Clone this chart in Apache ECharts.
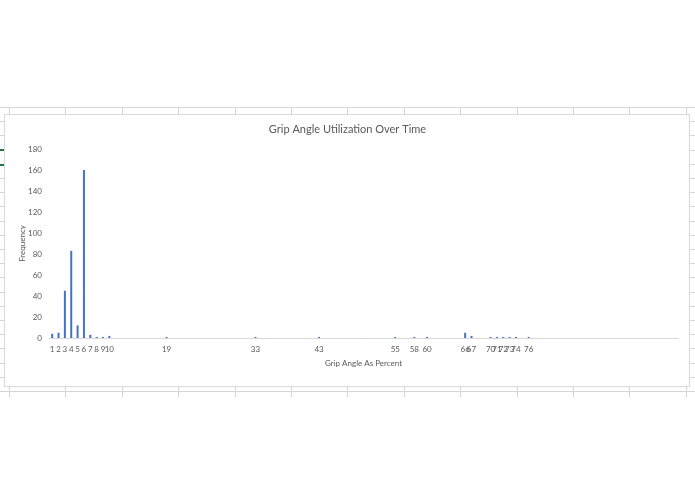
<!DOCTYPE html>
<html>
<head>
<meta charset="utf-8">
<script src="https://cdn.jsdelivr.net/npm/echarts@6/dist/echarts.min.js"></script>
<style>
  html, body { margin: 0; padding: 0; width: 695px; height: 494px; background: #ffffff; overflow: hidden; }
  #sheet {
    position: absolute; left: 0; top: 107px; width: 695px; height: 290px;
    background-image:
      repeating-linear-gradient(to right, transparent 0px, transparent 9px, #d6d6d6 9px, #d6d6d6 10px, transparent 10px, transparent 56.4px),
      repeating-linear-gradient(to bottom, #d6d6d6 0px, #d6d6d6 1px, transparent 1px, transparent 14.2px);
  }
  #frame {
    position: absolute; left: 4px; top: 114px; width: 684px; height: 271px;
    background: #ffffff; border: 1px solid #d9d9d9;
  }
  .gm { position: absolute; left: 0; width: 4px; height: 2px; background: #217346; }
  #chart { position: absolute; left: 0; top: 0; width: 695px; height: 494px; }
</style>
</head>
<body>
<div id="sheet"></div>
<div class="gm" style="top:149px"></div>
<div class="gm" style="top:164px"></div>
<div id="frame"></div>
<div id="chart"></div>
<script>
// Grip angle (percent) categories present in the data
const categories = [1, 2, 3, 4, 5, 6, 7, 8, 9, 10, 19, 33, 43, 55, 58, 60, 66, 67, 70, 71, 72, 73, 74, 76];
// Frequency for each category
const frequencies = [4, 5, 45, 83, 12, 160, 3, 1, 1, 2, 1, 1, 1, 1, 1, 1, 5, 2, 1, 1, 1, 1, 1, 1];
// Y axis ticks
const yTicks = [0, 20, 40, 60, 80, 100, 120, 140, 160, 180];

const chart = echarts.init(document.getElementById('chart'), null, { renderer: 'canvas' });
const txt = '#595959';
chart.setOption({
  backgroundColor: 'transparent',
  animation: false,
  title: {
    text: 'Grip Angle Utilization Over Time',
    left: 'center',
    top: 119,
    textStyle: { fontFamily: 'Lato', fontSize: 11, fontWeight: 'normal', color: txt }
  },
  grid: { left: 49, right: 17, top: 149, bottom: 156, containLabel: false },
  xAxis: {
    type: 'value',
    min: 0.5,
    max: 99.5,
    name: 'Grip Angle As Percent',
    nameLocation: 'middle',
    nameGap: 21,
    nameMoveOverlap: false,
    nameTextStyle: { fontFamily: 'Lato', fontSize: 8, color: txt },
    axisLine: { show: true, onZero: false, lineStyle: { color: '#d9d9d9', width: 1 } },
    axisTick: { show: false },
    splitLine: { show: false },
    axisLabel: {
      customValues: categories,
      fontFamily: 'Lato', fontSize: 8, color: txt, margin: 7
    }
  },
  yAxis: {
    type: 'value',
    min: yTicks[0],
    max: yTicks[yTicks.length - 1],
    interval: yTicks[1] - yTicks[0],
    name: 'Frequency',
    nameLocation: 'middle',
    nameGap: 23,
    nameMoveOverlap: false,
    nameTextStyle: { fontFamily: 'Lato', fontSize: 8, color: txt },
    axisLine: { show: false },
    axisTick: { show: false },
    splitLine: { show: false },
    axisLabel: { fontFamily: 'Lato', fontSize: 8, color: txt, margin: 7 }
  },
  series: [{
    type: 'bar',
    data: categories.map((c, i) => [c, frequencies[i]]),
    barWidth: 2,
    itemStyle: { color: '#4472C4' }
  }]
});
</script>
</body>
</html>
